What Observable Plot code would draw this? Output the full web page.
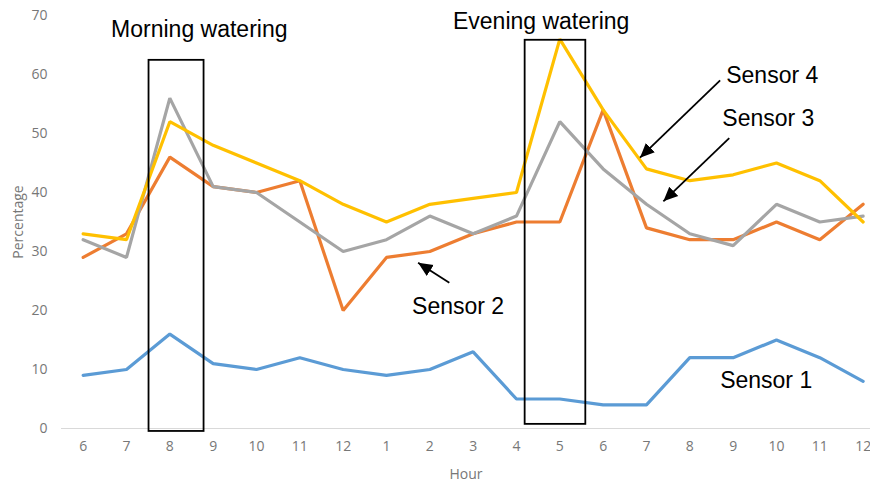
<!DOCTYPE html>
<html>
<head>
<meta charset="utf-8">
<script src="https://cdn.jsdelivr.net/npm/d3@7"></script>
<script src="https://cdn.jsdelivr.net/npm/@observablehq/plot@0.6"></script>
<style>
  html, body { margin: 0; padding: 0; background: #fff; }
  #chart svg { display: block; }
</style>
</head>
<body>
<div id="chart"></div>
<script>
const hours = ["6","7","8","9","10","11","12","1","2","3","4","5","6","7","8","9","10","11","12"];
const sensor1 = [9,10,16,11,10,12,10,9,10,13,5,5,4,4,12,12,15,12,8];
const sensor2 = [29,33,46,41,40,42,20,29,30,33,35,35,54,34,32,32,35,32,38];
const sensor3 = [32,29,56,41,40,35,30,32,36,33,36,52,44,38,33,31,38,35,36];
const sensor4 = [33,32,52,48,45,42,38,35,38,39,40,66,54,44,42,43,45,42,35];
const seriesNames = ["Sensor 1","Sensor 2","Sensor 3","Sensor 4"];
const seriesColors = ["#5B9BD5","#ED7D31","#A5A5A5","#FFC000"];
const yTicks = [0,10,20,30,40,50,60,70];

// annotation boxes (index units on x, percentage on y)
const boxes = [
  {x1: 1.52, x2: 2.79, y1: -0.5, y2: 62.4},
  {x1: 10.2, x2: 11.6, y1: 0.7, y2: 65.8}
];
const boxTitles = [
  {x: 2.68, y: 67.6, text: "Morning watering"},
  {x: 10.57, y: 68.9, text: "Evening watering"}
];
const sensorLabels = [
  {x: 14.84, y: 59.8, text: "Sensor 4"},
  {x: 14.75, y: 52.5, text: "Sensor 3"},
  {x: 7.59, y: 20.7, text: "Sensor 2"},
  {x: 14.70, y: 8.1, text: "Sensor 1"}
];
const arrows = [
  {x1: 14.70, y1: 59.0, x2: 12.85, y2: 45.9},
  {x1: 14.91, y1: 49.2, x2: 13.39, y2: 38.5},
  {x1: 8.45, y1: 24.7, x2: 7.73, y2: 28.1}
];

const allSeries = [sensor1, sensor2, sensor3, sensor4];
const rows = [];
allSeries.forEach((vals, s) => vals.forEach((v, i) => rows.push({i, v, s: seriesNames[s]})));

function filledHead(color, context) {
  const ns = "http://www.w3.org/2000/svg";
  const doc = context && context.document ? context.document : document;
  const m = doc.createElementNS(ns, "marker");
  m.setAttribute("viewBox", "-10 -5 10 10");
  m.setAttribute("markerWidth", 8);
  m.setAttribute("markerHeight", 8);
  m.setAttribute("refX", 0);
  m.setAttribute("refY", 0);
  m.setAttribute("orient", "auto");
  m.setAttribute("markerUnits", "strokeWidth");
  const p = doc.createElementNS(ns, "path");
  p.setAttribute("d", "M-10,-4.5L0,0L-10,4.5Z");
  p.setAttribute("fill", color);
  p.setAttribute("stroke", "none");
  m.appendChild(p);
  return m;
}

const chart = Plot.plot({
  width: 870,
  height: 482,
  marginLeft: 61,
  marginRight: 0,
  marginTop: 15,
  marginBottom: 54,
  style: {fontFamily: "'Open Sans', sans-serif", fontSize: "14px", color: "#777", background: "#fff"},
  x: {type: "linear", domain: [-0.5, 18.17]},
  y: {domain: [0, 70]},
  color: {domain: seriesNames, range: seriesColors},
  marks: [
    Plot.axisY({ticks: yTicks, tickSize: 0, tickPadding: 14, label: "Percentage", labelAnchor: "center", labelArrow: "none", labelOffset: 48, fontSize: 14}),
    Plot.axisX({ticks: d3.range(hours.length), tickFormat: i => hours[i], tickSize: 0, tickPadding: 13, label: "Hour", labelAnchor: "center", labelOffset: 50, labelArrow: "none", fontSize: 14}),
    Plot.ruleY([0], {stroke: "#d9d9d9", strokeWidth: 1}),
    Plot.line(rows, {x: "i", y: "v", z: "s", stroke: "s", strokeWidth: 3.2, strokeLinejoin: "miter"}),
    Plot.rect(boxes, {x1: "x1", x2: "x2", y1: "y1", y2: "y2", fill: "none", stroke: "#000", strokeWidth: 1.8}),
    Plot.text(boxTitles, {x: "x", y: "y", text: "text", textAnchor: "middle", fontSize: 23, fontFamily: "'Liberation Sans', Arial, sans-serif", fill: "#000"}),
    Plot.text(sensorLabels, {x: "x", y: "y", text: "text", textAnchor: "start", fontSize: 23, fontFamily: "'Liberation Sans', Arial, sans-serif", fill: "#000"}),
    Plot.link(arrows, {x1: "x1", y1: "y1", x2: "x2", y2: "y2", stroke: "#000", strokeWidth: 1.8, markerEnd: filledHead})
  ]
});
document.getElementById("chart").appendChild(chart);
</script>
</body>
</html>
